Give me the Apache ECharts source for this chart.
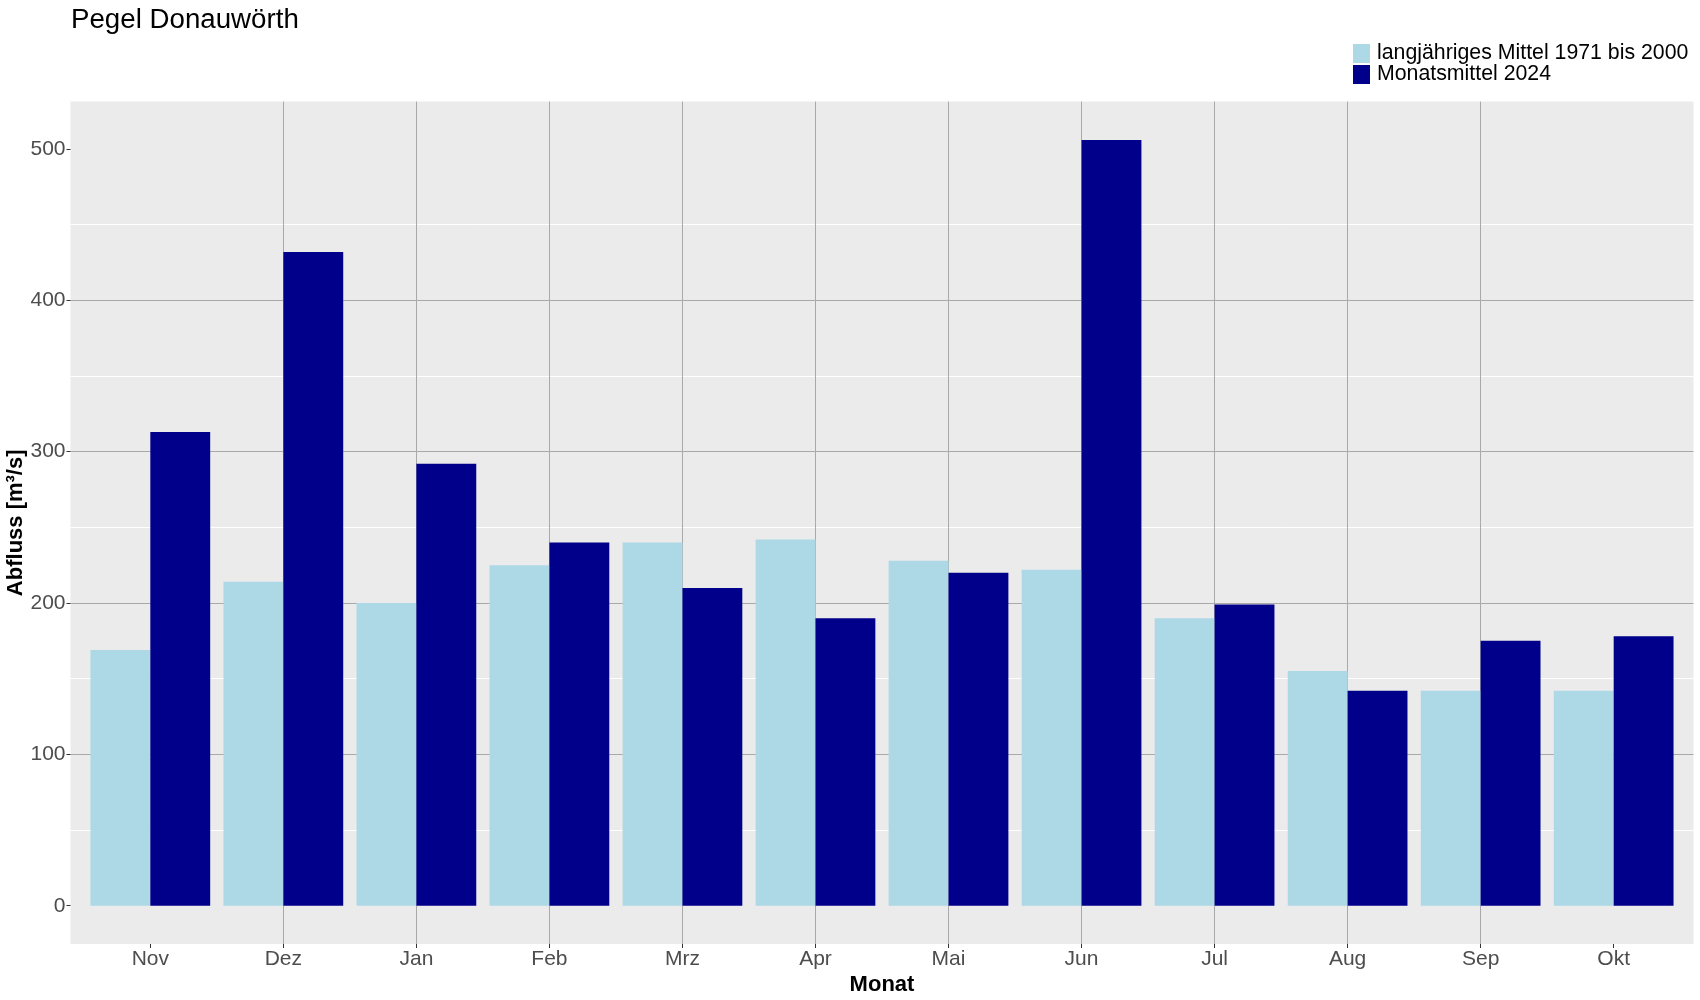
<!DOCTYPE html>
<html>
<head>
<meta charset="utf-8">
<script src="https://cdn.jsdelivr.net/npm/echarts@6/dist/echarts.min.js"></script>
<style>
  html, body { margin: 0; padding: 0; background: #ffffff; }
  #chart { width: 1700px; height: 1000px; }
</style>
</head>
<body>
<div id="chart"></div>
<script>
// Data
const months = ['Nov', 'Dez', 'Jan', 'Feb', 'Mrz', 'Apr', 'Mai', 'Jun', 'Jul', 'Aug', 'Sep', 'Okt'];
const longTermMean = [169, 214, 200, 225, 240, 242, 228, 222, 190, 155, 142, 142];
const monthlyMean2024 = [313, 432, 292, 240, 210, 190, 220, 506, 199, 142, 175, 178];
const yTicks = [0, 100, 200, 300, 400, 500];
const seriesNames = ['langjähriges Mittel 1971 bis 2000', 'Monatsmittel 2024'];

const FONT = "'Liberation Sans', Arial, sans-serif";
const xIdx = months.map((m, i) => i);

const chart = echarts.init(document.getElementById('chart'), null, { renderer: 'canvas' });

const option = {
  animation: false,
  backgroundColor: '#ffffff',
  title: {
    text: 'Pegel Donauwörth',
    left: 66,
    top: 1,
    textStyle: { fontFamily: FONT, fontSize: 27.7, fontWeight: 'normal', color: '#000000' }
  },
  legend: {
    orient: 'vertical',
    left: 1348,
    top: 38,
    itemWidth: 17,
    itemHeight: 19,
    itemGap: 0,
    icon: 'rect',
    data: seriesNames,
    textStyle: { fontFamily: FONT, fontSize: 21.3, color: '#000000', padding: [0, 0, 0, 2] }
  },
  grid: {
    left: 70.5,
    right: 6.5,
    top: 101.6,
    bottom: 56,
    show: true,
    backgroundColor: '#EBEBEB',
    borderWidth: 0,
    containLabel: false,
    outerBoundsMode: 'none'
  },
  xAxis: {
    type: 'value',
    position: 'bottom',
    min: -0.6,
    max: 11.6,
    minInterval: 1,
    maxInterval: 1,
    name: 'Monat',
    nameLocation: 'middle',
    nameGap: 30,
    nameMoveOverlap: false,
    nameTextStyle: { fontFamily: FONT, fontSize: 22, fontWeight: 'bold', color: '#000000' },
    axisLine: { show: false, onZero: false },
    axisTick: { show: true, length: 4, customValues: xIdx, lineStyle: { color: '#333333', width: 1 } },
    axisLabel: {
      show: true,
      customValues: xIdx,
      margin: 5,
      fontFamily: FONT,
      fontSize: 21,
      color: '#4D4D4D',
      formatter: function (v) {
        const i = Math.round(v);
        return (Math.abs(v - i) < 1e-6 && months[i] !== undefined) ? months[i] : '';
      }
    },
    splitLine: { show: true, showMinLine: false, showMaxLine: false, lineStyle: { color: '#A9A9A9', width: 1 } },
    minorSplitLine: { show: false }
  },
  yAxis: {
    type: 'value',
    position: 'left',
    min: -25.3,
    max: 531.3,
    minInterval: 100,
    maxInterval: 100,
    name: 'Abfluss [m³/s]',
    nameLocation: 'middle',
    nameRotate: 90,
    nameGap: 44,
    nameMoveOverlap: false,
    nameTextStyle: { fontFamily: FONT, fontSize: 22, fontWeight: 'bold', color: '#000000' },
    axisLine: { show: false, onZero: false },
    axisTick: { show: true, length: 4, customValues: yTicks, lineStyle: { color: '#333333', width: 1 } },
    axisLabel: {
      show: true,
      customValues: yTicks,
      margin: 5,
      fontFamily: FONT,
      fontSize: 21,
      color: '#4D4D4D'
    },
    splitLine: { show: true, showMinLine: false, showMaxLine: false, lineStyle: { color: '#A9A9A9', width: 1.1 } },
    minorTick: { show: false, splitNumber: 2 },
    minorSplitLine: { show: true, lineStyle: { color: '#FFFFFF', width: 1 } }
  },
  series: [
    {
      name: seriesNames[0],
      type: 'bar',
      data: longTermMean.map((v, i) => [i, v]),
      itemStyle: { color: '#ADD8E6' },
      barGap: '0%',
      barCategoryGap: '10%'
    },
    {
      name: seriesNames[1],
      type: 'bar',
      data: monthlyMean2024.map((v, i) => [i, v]),
      itemStyle: { color: '#00008B' },
      barGap: '0%',
      barCategoryGap: '10%'
    }
  ]
};

chart.setOption(option);
</script>
</body>
</html>
